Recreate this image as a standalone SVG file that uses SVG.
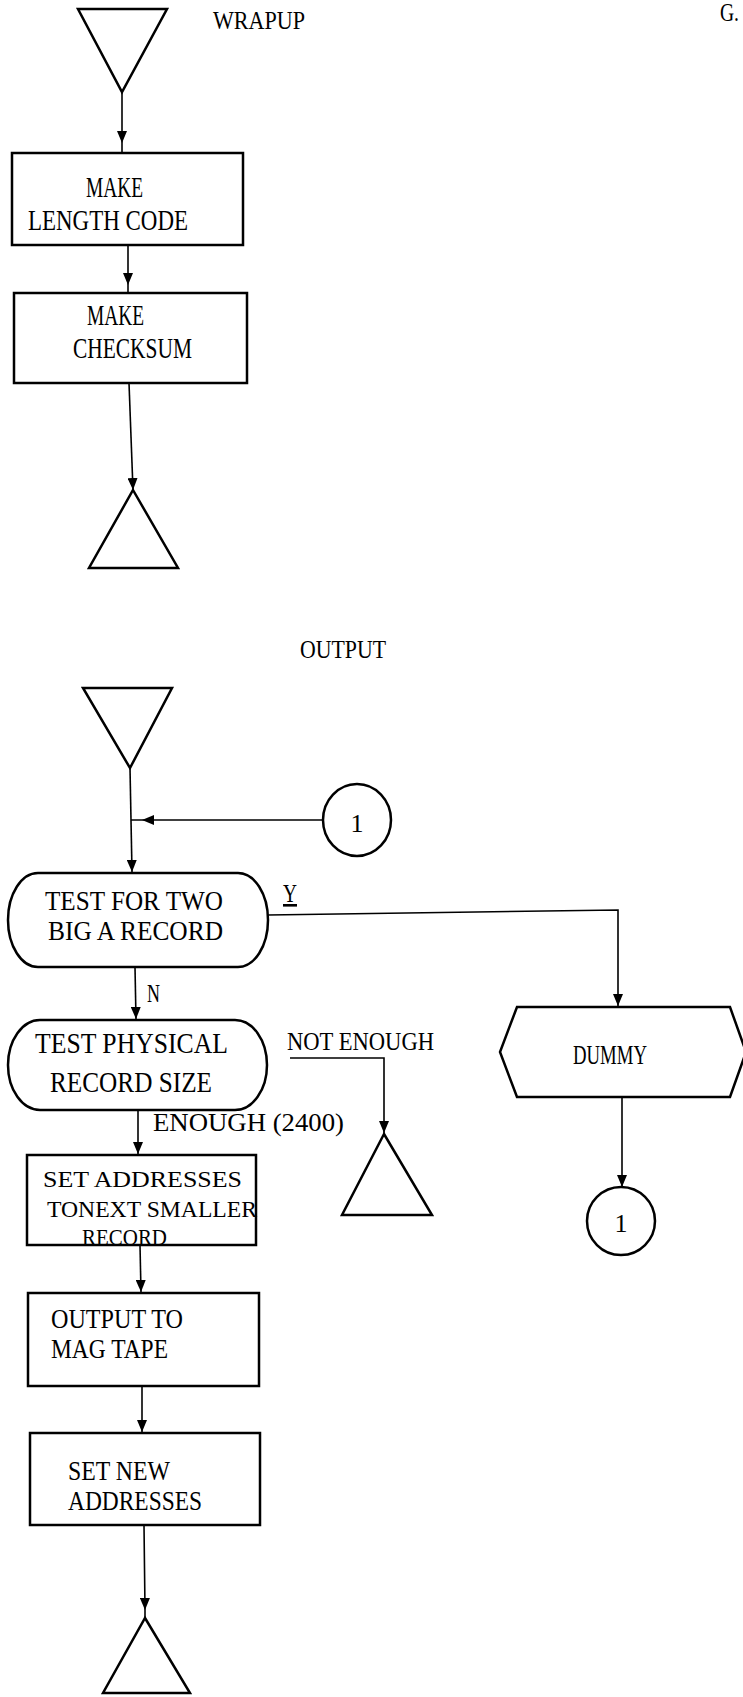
<svg xmlns="http://www.w3.org/2000/svg" width="743" height="1697" viewBox="0 0 743 1697">
<defs>
<marker id="ah" markerUnits="userSpaceOnUse" markerWidth="12" markerHeight="10" refX="12" refY="5" orient="auto">
<path d="M0,0 L12,5 L0,10 z" fill="#000"/>
</marker>
<style>
.s{fill:#fff;stroke:#000;stroke-width:2.5}
.c{fill:none;stroke:#000;stroke-width:1.6}
.t{font-family:"Liberation Serif","Times New Roman",serif;font-size:27px;fill:#000}
.big{font-size:29px}
.sm{font-size:24px}
.lbl{font-family:"Liberation Serif","Times New Roman",serif;font-size:26px;fill:#000}
</style>
</defs>
<rect width="743" height="1697" fill="#fff"/>

<g id="connectors">
<path class="c" d="M122,92 L122,143 L122,153" marker-mid="url(#ah)"/>
<path class="c" d="M128,245 L128,285 L128,293" marker-mid="url(#ah)"/>
<path class="c" d="M129,383 L133,490" marker-end="url(#ah)"/>
<path class="c" d="M130,768 L132,872" marker-end="url(#ah)"/>
<path class="c" d="M322,820 L142,820 L131,820" marker-mid="url(#ah)"/>
<path class="c" d="M135,967 L136,1019" marker-end="url(#ah)"/>
<path class="c" d="M268,915 L618,910 L618,1006" marker-end="url(#ah)"/>
<path class="c" d="M290,1058 L384,1058 L384,1133" marker-end="url(#ah)"/>
<path class="c" d="M138,1110 L138,1154" marker-end="url(#ah)"/>
<path class="c" d="M622,1097 L622,1187" marker-end="url(#ah)"/>
<path class="c" d="M140,1245 L141,1292" marker-end="url(#ah)"/>
<path class="c" d="M142,1386 L142,1432" marker-end="url(#ah)"/>
<path class="c" d="M144,1525 L145,1610 L145,1618" marker-mid="url(#ah)"/>
<text class="lbl" x="283" y="902" text-decoration="underline" textLength="14" lengthAdjust="spacingAndGlyphs">Y</text>
<text class="lbl" x="147" y="1002" textLength="13" lengthAdjust="spacingAndGlyphs">N</text>
<text class="lbl" x="287" y="1050" textLength="147" lengthAdjust="spacingAndGlyphs">NOT ENOUGH</text>
<text class="lbl" x="153" y="1131" textLength="191" lengthAdjust="spacingAndGlyphs">ENOUGH (2400)</text>
</g>

<g id="title-wrapup">
<text class="lbl" x="213" y="29" textLength="92" lengthAdjust="spacingAndGlyphs">WRAPUP</text>
</g>
<g id="page-mark">
<text class="lbl" x="720" y="21" textLength="19" lengthAdjust="spacingAndGlyphs">G.</text>
</g>
<g id="wrapup-start">
<polygon class="s" points="78,9 167,9 122,92"/>
</g>
<g id="make-length-code">
<rect class="s" x="12" y="153" width="231" height="92"/>
<text class="t big" x="86" y="197" textLength="57" lengthAdjust="spacingAndGlyphs">MAKE</text>
<text class="t big" x="28" y="230" textLength="160" lengthAdjust="spacingAndGlyphs">LENGTH CODE</text>
</g>
<g id="make-checksum">
<rect class="s" x="14" y="293" width="233" height="90"/>
<text class="t big" x="87" y="325" textLength="57" lengthAdjust="spacingAndGlyphs">MAKE</text>
<text class="t big" x="73" y="358" textLength="119" lengthAdjust="spacingAndGlyphs">CHECKSUM</text>
</g>
<g id="wrapup-end">
<polygon class="s" points="133,490 178,568 89,568"/>
</g>

<g id="title-output">
<text class="lbl" x="300" y="658" textLength="86" lengthAdjust="spacingAndGlyphs">OUTPUT</text>
</g>
<g id="output-start">
<polygon class="s" points="83,688 172,688 130,768"/>
</g>
<g id="connector-1-in">
<ellipse class="s" cx="357" cy="820" rx="34" ry="36"/>
<text class="lbl" x="357" y="832" text-anchor="middle">1</text>
</g>
<g id="test-too-big">
<rect class="s" x="8" y="873" width="260" height="94" rx="30" ry="47"/>
<text class="t" x="45" y="910" textLength="178" lengthAdjust="spacingAndGlyphs">TEST FOR TWO</text>
<text class="t" x="48" y="940" textLength="175" lengthAdjust="spacingAndGlyphs">BIG A RECORD</text>
</g>
<g id="test-physical">
<rect class="s" x="8" y="1020" width="259" height="90" rx="32" ry="45"/>
<text class="t big" x="35" y="1053" textLength="193" lengthAdjust="spacingAndGlyphs">TEST PHYSICAL</text>
<text class="t big" x="50" y="1092" textLength="162" lengthAdjust="spacingAndGlyphs">RECORD SIZE</text>
</g>
<g id="dummy">
<polygon class="s" points="517,1007 730,1007 746,1052 730,1097 517,1097 500,1052"/>
<text class="t" x="573" y="1064" textLength="74" lengthAdjust="spacingAndGlyphs">DUMMY</text>
</g>
<g id="not-enough-end">
<polygon class="s" points="384,1134 432,1215 342,1215"/>
</g>
<g id="connector-1-out">
<circle class="s" cx="621" cy="1221" r="34"/>
<text class="lbl" x="621" y="1232" text-anchor="middle">1</text>
</g>
<g id="set-addresses">
<rect class="s" x="27" y="1155" width="229" height="90"/>
<text class="t sm" x="43" y="1187" textLength="199" lengthAdjust="spacingAndGlyphs">SET ADDRESSES</text>
<text class="t sm" x="47" y="1217" textLength="210" lengthAdjust="spacingAndGlyphs">TONEXT SMALLER</text>
<text class="t sm" x="82" y="1245" textLength="85" lengthAdjust="spacingAndGlyphs">RECORD</text>
</g>
<g id="output-mag-tape">
<rect class="s" x="28" y="1293" width="231" height="93"/>
<text class="t" x="51" y="1328" textLength="132" lengthAdjust="spacingAndGlyphs">OUTPUT TO</text>
<text class="t" x="51" y="1358" textLength="117" lengthAdjust="spacingAndGlyphs">MAG TAPE</text>
</g>
<g id="set-new-addresses">
<rect class="s" x="30" y="1433" width="230" height="92"/>
<text class="t" x="68" y="1480" textLength="102" lengthAdjust="spacingAndGlyphs">SET NEW</text>
<text class="t" x="68" y="1510" textLength="134" lengthAdjust="spacingAndGlyphs">ADDRESSES</text>
</g>
<g id="output-end">
<polygon class="s" points="145,1618 190,1693 103,1693"/>
</g>
</svg>
